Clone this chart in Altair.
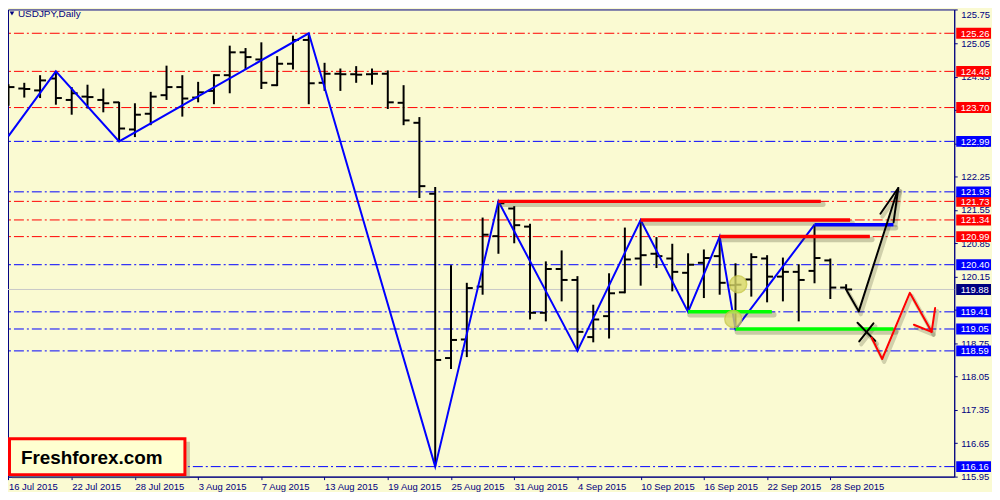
import json
import altair as alt
import pandas as pd

# ---------------- data ----------------
date_labels = ["16 Jul 2015", "22 Jul 2015", "28 Jul 2015", "3 Aug 2015", "7 Aug 2015",
               "13 Aug 2015", "19 Aug 2015", "25 Aug 2015", "31 Aug 2015", "4 Sep 2015",
               "10 Sep 2015", "16 Sep 2015", "22 Sep 2015", "28 Sep 2015"]
date_tick_idx = [0, 4, 8, 12, 16, 20, 24, 28, 32, 36, 40, 44, 48, 52]

bar_idx = list(range(54))
opens = [124.05, 124.10, 124.06, 124.31, 123.86, 123.93, 123.86, 123.81, 123.24, 123.57,
         123.96, 124.13, 123.91, 124.05, 124.38, 124.86, 124.71, 124.17, 124.62, 125.12,
         124.22, 124.41, 124.40, 124.40, 124.41, 123.80, 123.38, 121.89, 118.44, 118.83,
         119.94, 121.00, 121.58, 121.20, 119.39, 120.31, 120.08, 118.88, 119.32, 119.82,
         120.53, 120.63, 120.53, 120.23, 120.44, 120.58, 119.97, 120.09, 120.53, 120.15,
         120.25, 120.27, 120.49, 119.92]
highs = [124.19, 124.22, 124.38, 124.46, 124.13, 124.18, 124.10, 123.82, 123.79, 124.03,
         124.58, 124.38, 124.24, 124.40, 125.00, 124.95, 125.07, 124.78, 125.21, 125.26,
         124.64, 124.52, 124.57, 124.52, 124.48, 124.17, 123.50, 122.03, 120.39, 120.02,
         121.39, 121.73, 121.63, 121.26, 120.47, 120.70, 120.16, 119.56, 120.22, 121.18,
         121.34, 120.98, 120.84, 120.64, 120.72, 120.99, 120.43, 120.64, 120.60, 120.55,
         120.41, 121.24, 120.53, 119.99]
lows = [123.74, 123.91, 123.90, 123.76, 123.55, 123.68, 123.60, 122.99, 123.08, 123.33,
        123.86, 123.51, 123.81, 123.77, 124.00, 124.50, 124.09, 124.15, 124.50, 123.77,
        124.05, 124.05, 124.22, 124.18, 123.67, 123.33, 121.80, 116.16, 118.21, 118.46,
        119.77, 120.63, 120.85, 119.25, 119.21, 119.63, 118.59, 118.77, 118.85, 119.80,
        119.96, 120.33, 119.84, 119.41, 119.70, 119.77, 119.05, 119.73, 119.61, 119.63,
        119.21, 120.01, 119.68, 119.87]
closes = [124.13, 124.09, 124.27, 123.90, 124.00, 123.92, 123.79, 123.26, 123.55, 123.93,
          124.13, 123.89, 124.02, 124.38, 124.86, 124.76, 124.22, 124.62, 125.12, 124.21,
          124.41, 124.40, 124.39, 124.41, 123.81, 123.43, 122.05, 118.40, 118.82, 119.91,
          121.03, 121.69, 121.23, 119.39, 120.31, 120.08, 118.99, 119.25, 119.80, 120.51,
          120.60, 120.58, 120.25, 120.40, 120.54, 120.02, 119.98, 120.56, 120.15, 120.25,
          120.08, 120.54, 119.92, 119.88]

price_ticks = [125.75, 125.05, 124.35, 123.65, 122.95, 122.25, 121.55, 120.85, 120.15,
               119.45, 118.75, 118.05, 117.35, 116.65, 115.95]

red_levels = [125.26, 124.46, 123.70, 121.73, 121.34, 120.99]
blue_levels = [122.99, 121.93, 120.40, 119.41, 119.05, 118.59, 116.16]
current_price = [119.88]

zz_idx = [0, 3, 7, 19, 27, 31, 36, 40, 43, 45, 46, 51]
zz_price = [123.10, 124.46, 122.99, 125.26, 116.16, 121.73, 118.59, 121.34, 119.41, 120.99, 119.05, 121.24]

red_seg_from = [31, 40, 45]
red_seg_to = [51.4, 53.25, 54.5]
red_seg_price = [121.73, 121.34, 120.99]
blue_seg_from = [51]
blue_seg_to = [56.0]
blue_seg_price = [121.24]
green_seg_from = [43, 46]
green_seg_to = [48.3, 56.0]
green_seg_price = [119.41, 119.05]

black_path_idx = [53, 53.8, 56.3]
black_path_price = [119.88, 119.42, 122.01]
black_head_idx = [55.17, 56.3, 56.0]
black_head_price = [121.47, 122.01, 121.29]
cross_a_idx = [53.72, 54.84]
cross_a_price = [119.18, 118.80]
cross_b_idx = [53.83, 54.73]
cross_b_price = [118.79, 119.17]

red_path_idx = [54.61, 55.28, 57.03, 58.41]
red_path_price = [118.87, 118.42, 119.81, 118.99]
red_head_idx = [57.29, 58.41, 58.63]
red_head_price = [119.14, 118.99, 119.49]

marker_idx = [46.17, 45.86]
marker_price = [119.99, 119.26]

title_text = ["USDJPY,Daily"]
logo_text = ["Freshforex.com"]

# ---------------- layout ----------------
W, H = 952, 470
NAVY = "#000080"
BG = "#FAFAD2"
FONT = "Liberation Sans"

XS = alt.Scale(domain=[-0.03, 59.84], nice=False, zero=False)
YS = alt.Scale(domain=[115.95, 125.76], nice=False, zero=False)

X_AXIS = alt.Axis(values=date_tick_idx, labelExpr=json.dumps(date_labels) + "[round(datum.value/4)]",
                  labelAlign="left", labelBaseline="top", labelPadding=2, tickSize=3, grid=False,
                  title=None, domainColor=NAVY, tickColor=NAVY, labelColor=NAVY, labelFont=FONT,
                  labelFontSize=9.5, labelFlush=False, labelOverlap=False, labelBound=False)
Y_AXIS = alt.Axis(values=price_ticks, format=".2f", orient="right", labelAlign="left",
                  labelBaseline={"condition": {"test": "datum.value > 125.7", "value": "top"},
                                 "value": "middle"},
                  labelPadding=3.5, tickSize=3, grid=False, title=None,
                  domainColor=NAVY, tickColor=NAVY, labelColor=NAVY, labelFont=FONT,
                  labelFontSize=9.5, labelOverlap=False, labelFlush=False, labelBound=False)


def X(field):
    return alt.X(field, scale=XS, axis=X_AXIS)


def Y(field):
    return alt.Y(field, scale=YS, axis=Y_AXIS)


bars = pd.DataFrame({"i": bar_idx, "o": opens, "h": highs, "l": lows, "c": closes})


def seg_df(a, b, p):
    return pd.DataFrame({"a": a, "b": b, "p": p})


def path_df(idx, price):
    return pd.DataFrame({"i": idx, "p": price, "k": list(range(len(idx)))})


dash = [10, 3, 2, 3]
red_lv = alt.Chart(pd.DataFrame({"p": red_levels})).mark_rule(
    color="#FF0000", strokeDash=dash, strokeWidth=1).encode(y=Y("p:Q"))
blue_lv = alt.Chart(pd.DataFrame({"p": blue_levels})).mark_rule(
    color="#0000FF", strokeDash=dash, strokeWidth=1).encode(y=Y("p:Q"))
cur_lv = alt.Chart(pd.DataFrame({"p": current_price})).mark_rule(
    color="#C8C8C8", strokeWidth=1).encode(y=Y("p:Q"))

base = alt.Chart(bars)
vert = base.mark_rule(color="black", strokeWidth=2, strokeCap="butt").encode(
    x=X("i:Q"), y=Y("l:Q"), y2="h:Q")
otick = base.mark_rule(color="black", strokeWidth=2, strokeCap="butt", xOffset=-6, x2Offset=0).encode(
    x=X("i:Q"), x2="i:Q", y=Y("o:Q"))
ctick = base.mark_rule(color="black", strokeWidth=2, strokeCap="butt", xOffset=0, x2Offset=6).encode(
    x=X("i:Q"), x2="i:Q", y=Y("c:Q"))

zz = alt.Chart(path_df(zz_idx, zz_price)).mark_line(color="#0000FF", strokeWidth=2).encode(
    x=X("i:Q"), y=Y("p:Q"), order="k:Q")


def seg_layer(df, color, width=3.5, shadow=False):
    props = dict(color=color, strokeWidth=width, strokeCap="butt")
    if shadow:
        props = dict(color="#3a3a20", strokeWidth=width + 2, opacity=0.25, xOffset=2, yOffset=3,
                     x2Offset=2, y2Offset=3, strokeCap="round")
    return alt.Chart(df).mark_rule(**props).encode(x=X("a:Q"), x2="b:Q", y=Y("p:Q"))


def path_layer(df, color, width=2, shadow=False):
    props = dict(color=color, strokeWidth=width, strokeCap="round", strokeJoin="round")
    if shadow:
        props = dict(color="#3a3a20", strokeWidth=width + 2, opacity=0.22, xOffset=2, yOffset=3,
                     strokeCap="round", strokeJoin="round")
    return alt.Chart(df).mark_line(**props).encode(x=X("i:Q"), y=Y("p:Q"), order="k:Q")


red_segs = seg_df(red_seg_from, red_seg_to, red_seg_price)
blue_segs = seg_df(blue_seg_from, blue_seg_to, blue_seg_price)
green_segs = seg_df(green_seg_from, green_seg_to, green_seg_price)

paths_black = [path_df(black_path_idx, black_path_price), path_df(black_head_idx, black_head_price),
               path_df(cross_a_idx, cross_a_price), path_df(cross_b_idx, cross_b_price)]
paths_red = [path_df(red_path_idx, red_path_price), path_df(red_head_idx, red_head_price)]

shadow_layers = [seg_layer(d, None, shadow=True) for d in (red_segs, blue_segs, green_segs)]
shadow_layers += [path_layer(d, None, shadow=True) for d in paths_black + paths_red]
seg_layers = [seg_layer(red_segs, "#FF0000"), seg_layer(blue_segs, "#0000FF"),
              seg_layer(green_segs, "#00FF00")]
path_layers = [path_layer(d, "black") for d in paths_black] + [path_layer(d, "#FF0000") for d in paths_red]

markers = alt.Chart(pd.DataFrame({"i": marker_idx, "p": marker_price})).mark_circle(
    size=290, color="#D8D868", opacity=0.8, stroke="#C8C848", strokeWidth=1.5).encode(
    x=X("i:Q"), y=Y("p:Q"))


def box_layers(levels, color):
    df = pd.DataFrame({"p": levels})
    r = alt.Chart(df).mark_rect(color=color, yOffset=-5.5, y2Offset=5.5).encode(
        x=alt.value(W + 2), x2=alt.value(W + 37), y=Y("p:Q"), y2="p:Q")
    t = alt.Chart(df).mark_text(align="left", baseline="middle", color="white", font=FONT,
                                fontSize=9.5, dy=0.5).encode(
        x=alt.value(W + 6.5), y=Y("p:Q"), text=alt.Text("p:Q", format=".2f"))
    return [r, t]


boxes = box_layers(red_levels, "#FF0000") + box_layers(blue_levels, "#0000FF") + \
    box_layers(current_price, NAVY)

title_tri = alt.Chart(pd.DataFrame({"t": title_text})).mark_point(
    shape="triangle-down", filled=True, color=NAVY, size=22, opacity=1).encode(
    x=alt.value(4), y=alt.value(4))
title = alt.Chart(pd.DataFrame({"t": title_text})).mark_text(
    align="left", baseline="alphabetic", font=FONT, fontSize=10, color=NAVY).encode(
    x=alt.value(10), y=alt.value(8), text="t:N")

logo_df = pd.DataFrame({"t": logo_text})
logo_shadow = alt.Chart(logo_df).mark_rect(fill="#6e6e50", opacity=0.35).encode(
    x=alt.value(4), x2=alt.value(183), y=alt.value(435), y2=alt.value(472))
logo_box = alt.Chart(logo_df).mark_rect(fill="#FFFFD0", stroke="#FF0000", strokeWidth=3).encode(
    x=alt.value(1.5), x2=alt.value(178), y=alt.value(432), y2=alt.value(468))
logo_txt = alt.Chart(logo_df).mark_text(
    align="left", baseline="middle", font=FONT, fontSize=19, fontWeight="bold", color="black").encode(
    x=alt.value(13), y=alt.value(451), text="t:N")

layers = [red_lv, blue_lv, cur_lv, vert, otick, ctick, zz] + shadow_layers + seg_layers + \
    path_layers + [markers] + boxes + [title_tri, title, logo_shadow, logo_box, logo_txt]

chart = alt.layer(*layers).properties(
    width=W, height=H, autosize=alt.AutoSizeParams(type="none"),
    padding={"left": 0, "top": 0, "right": 38, "bottom": 14},
    background=BG,
).configure_view(fill=BG, stroke=NAVY, strokeWidth=1)

chart.save("out.html", embed_options={"renderer": "svg", "actions": False})
